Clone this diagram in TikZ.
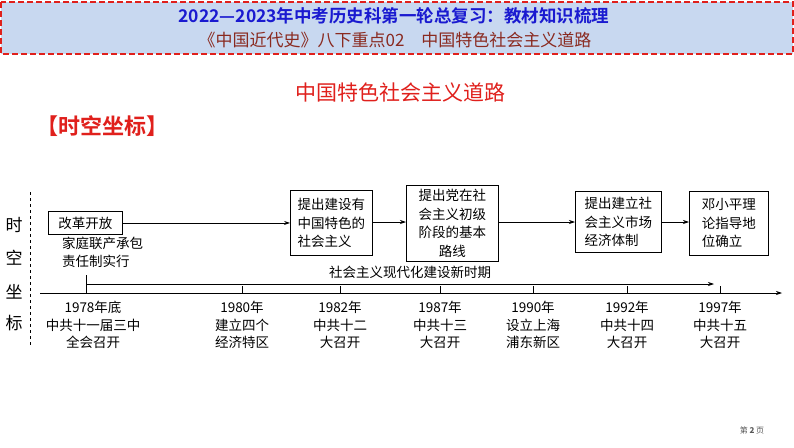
\documentclass[tikz,border=0pt]{standalone}
\usepackage{fontspec}
\setmainfont{Liberation Serif}
\newfontfamily\cjk{Noto Sans CJK SC}
\newfontfamily\cjkb{Noto Sans CJK SC Bold}
\usetikzlibrary{arrows.meta}
\definecolor{hdrbg}{HTML}{C8D8F0}
\definecolor{hdrred}{HTML}{E0201C}
\definecolor{ttlblue}{HTML}{1A1AD0}
\definecolor{subred}{HTML}{8A2A20}
\begin{document}
\begin{tikzpicture}[x=1pt,y=-1pt,
  txt/.style={font=\cjk\fontsize{13.5}{18}\selectfont,inner sep=0pt},
  evbox/.style={draw,line width=0.9pt,font=\cjk\fontsize{13.5}{18.5}\selectfont,align=left,inner sep=2pt,anchor=north west},
  arr/.style={-{Stealth[length=6pt,width=4pt]},line width=0.7pt},
  tick/.style={line width=0.7pt}]
\useasboundingbox (0,0) rectangle (794,447);
\fill[white] (0,0) rectangle (794,447);
% header
\draw[hdrred,fill=hdrbg,line width=1.6pt,dash pattern=on 6pt off 3pt] (1,2) rectangle (793,54);
\node[font=\cjkb\fontsize{17.5}{20}\selectfont,text=ttlblue] (t1) at (394,16) {2022—2023年中考历史科第一轮总复习：教材知识梳理};
\node[font=\cjk\fontsize{17}{20}\selectfont,text=subred] (t2) at (395,40) {《中国近代史》八下重点02\quad 中国特色社会主义道路};
\node[font=\cjk\fontsize{21}{24}\selectfont,text=hdrred] (mt) at (400,92) {中国特色社会主义道路};
\node[font=\cjkb\fontsize{22}{24}\selectfont,text=hdrred,anchor=west,inner sep=0pt] (sk) at (36,126) {【时空坐标】};
% left label
\draw[dashed,line width=0.8pt] (30,192) -- (30,346);
\foreach \c/\y in {时/225,空/258,坐/292,标/323}
  \node[font=\cjk\fontsize{17}{19}\selectfont] (l\y) at (14,\y) {\c};
% boxes
\node[evbox,minimum width=74pt,minimum height=23pt] (b1) at (48,211) {改革开放};
\node[evbox,minimum width=82pt,minimum height=65pt] (b2) at (290,190) {提出建设有\\中国特色的\\社会主义};
\node[evbox,minimum width=92pt,minimum height=76pt] (b3) at (406,185) {提出党在社\\会主义初级\\阶段的基本\\\hspace*{1.5em}路线};
\node[evbox,minimum width=86pt,minimum height=61pt] (b4) at (575,191) {提出建立社\\会主义市场\\经济体制};
\node[evbox,minimum width=79pt,minimum height=64pt] (b5) at (689,191) {邓小平理\\论指导地\\位确立};
\coordinate (y0) at (0,222);
\draw[arr] (b1.east) -- (b1.east -| b2.west);
\draw[arr] (b2.east |- y0) -- (b3.west |- y0);
\draw[arr] (b3.east |- y0) -- (b4.west |- y0);
\draw[arr] (b4.east |- y0) -- (b5.west |- y0);
\node[txt,anchor=north west,align=left] (fam) at (62,237) {家庭联产承包\\责任制实行};
% axis
\coordinate (ax0) at (40,293);
\coordinate (ax1) at (782,293);
\draw[arr] (ax0) -- (ax1);
\coordinate (p0) at (86,275);
\coordinate (p1) at (86,284);
\coordinate (p2) at (714,284);
\draw[tick] (p0) -- (86,293);
\draw[arr] (p1) -- (p2);
\node[txt] (per) at (410,272) {社会主义现代化建设新时期};
\foreach \x in {242,340,440,533,627,720}
  \draw[tick] (\x,286) -- (\x,293);
\foreach \x/\a/\b/\c in {93/1978年底/中共十一届三中/全会召开,242/1980年/建立四个/经济特区,340/1982年/中共十二/大召开,440/1987年/中共十三/大召开,533/1990年/设立上海/浦东新区,627/1992年/中共十四/大召开,720/1997年/中共十五/大召开}{
  \node[txt] at (\x,307) {\a};
  \node[txt] at (\x,325) {\b};
  \node[txt] at (\x,342) {\c};
}
\node[font=\cjk\fontsize{8}{9}\selectfont,text=gray!70!black] (pg) at (752,430) {第 \textbf{2} 页};
\end{tikzpicture}
\end{document}
